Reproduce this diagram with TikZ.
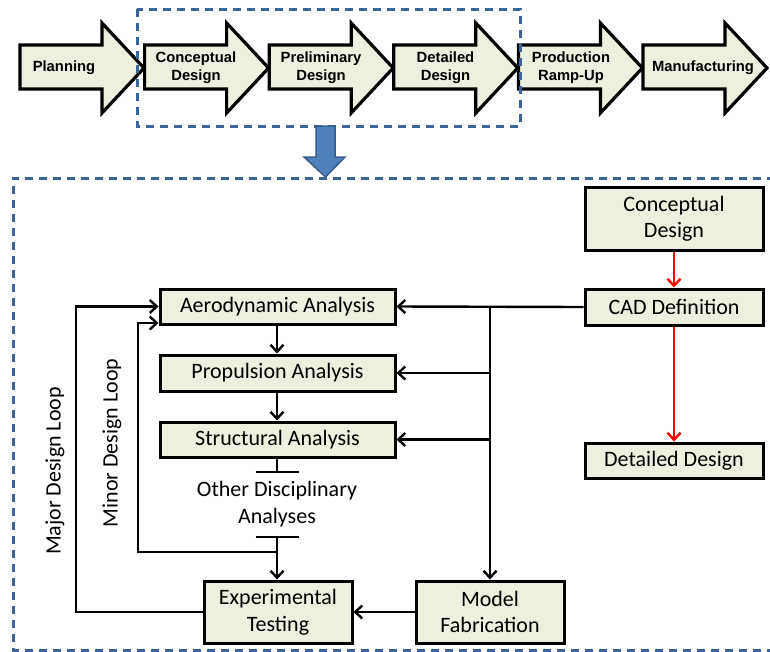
\documentclass[tikz,border=0pt]{standalone}
\usepackage{fontspec}
\setmainfont{Carlito}
\newfontfamily\stagefont{Liberation Sans}
\usetikzlibrary{arrows.meta}
\definecolor{boxfill}{HTML}{EBF1DE}
\definecolor{frameblue}{HTML}{3D6496}
\definecolor{bluefill}{HTML}{4F81BD}
\definecolor{blueedge}{HTML}{385D8A}
\tikzset{
  stage/.style={draw=black,line width=3.2pt,fill=boxfill,line join=miter},
  stagetext/.style={font=\stagefont\bfseries\fontsize{14.8}{18}\selectfont,align=center,inner sep=0pt},
  block/.style={draw=black,line width=3pt,fill=boxfill,inner sep=0pt,align=center,
    font=\fontsize{22}{26.5}\selectfont},
  plain/.style={inner sep=0pt,align=center,font=\fontsize{22}{26.5}\selectfont},
  frame/.style={draw=frameblue,line width=3pt,dash pattern=on 8.3pt off 5.7pt},
  link/.style={draw=black,line width=2.4pt,-{Straight Barb[length=7pt,width=13pt,line width=2.4pt]}},
  wire/.style={draw=black,line width=2.4pt},
  redlink/.style={draw=red,line width=2.4pt,-{Straight Barb[length=7pt,width=13pt,line width=2.4pt]}},
  bar/.style={draw=black,line width=2.4pt},
}
\begin{document}
\begin{tikzpicture}[x=1pt,y=-1pt]
\useasboundingbox (0,0) rectangle (770,651);

% process chevrons along the top
\foreach \i/\lbl/\tx in {0/Planning/64,1/Conceptual\\Design/196,2/Preliminary\\Design/321,
    3/Detailed\\Design/445.5,4/Production\\Ramp-Up/571,5/Manufacturing/703}{
  \pgfmathsetmacro{\L}{20+124.6*\i}
  \draw[stage] (\L,45) -- (\L+82,45) -- (\L+82,23) -- (\L+124,68) -- (\L+82,113)
     -- (\L+82,89) -- (\L,89) -- cycle;
  \node[stagetext] (stage\i) at (\tx,68) {\lbl};
}

% highlighted design phases
\draw[frame] (137,9) rectangle (520,126);

% block arrow down to the detail view
\draw[fill=bluefill,draw=blueedge,line width=1.5pt,line join=miter]
  (316,126) -- (335,126) -- (335,157) -- (345,157) -- (325.5,177) -- (304,157) -- (316,157) -- cycle;

% detail frame (open on the right)
\draw[frame] (775,178) -- (13,178) -- (13,650) -- (775,650);

% blocks
\node[block,minimum width=235pt,minimum height=35pt] (aero) at (277.5,306.5) {Aerodynamic Analysis};
\node[block,minimum width=235pt,minimum height=36pt] (prop) at (277.5,373) {Propulsion Analysis};
\node[block,minimum width=235pt,minimum height=35pt] (struct) at (277.5,439.5) {Structural Analysis};
\node[plain] (other) at (277,504) {Other Disciplinary\\Analyses};
\node[block,minimum width=148pt,minimum height=62pt] (exp) at (278,612) {Experimental\\Testing};
\node[block,minimum width=148pt,minimum height=62pt] (model) at (490,612) {Model\\Fabrication};
\node[block,minimum width=178pt,minimum height=63pt] (cdesign) at (674,218.5) {Conceptual\\Design};
\node[block,minimum width=178pt,minimum height=36pt] (cad) at (674,307) {CAD Definition};
\node[block,minimum width=178pt,minimum height=35pt] (ddesign) at (674,460.5) {Detailed Design};

\node[plain,rotate=90] (major) at (55,471) {Major Design Loop};
\node[plain,rotate=90] (minor) at (112,443) {Minor Design Loop};

% auxiliary points
\coordinate (j1) at (490,306.5);
\coordinate (tb1) at (277,472);
\coordinate (tb2) at (277,537);
\coordinate (mn) at (277,552);

% red design flow
\draw[redlink] (cdesign.south) -- (cad.north);
\draw[redlink] (cad.south) -- (ddesign.north);

% CAD distribution
\draw[link] (cad.west) -- (aero.east);
\draw[link] (j1 |- prop.east) -- (prop.east);
\draw[link] (j1 |- struct.east) -- (struct.east);
\draw[link] (j1) -- (model.north);
\draw[wire] (j1) -- (j1 |- struct.east);

% analysis chain
\draw[link] (aero.south -| tb1) -- (prop.north -| tb1);
\draw[link] (prop.south -| tb1) -- (struct.north -| tb1);
\draw[wire] (struct.south -| tb1) -- (tb1);
\draw[bar] ([xshift=-21.5pt]tb1) -- ([xshift=21.5pt]tb1);
\draw[bar] ([xshift=-21.5pt]tb2) -- ([xshift=21.5pt]tb2);
\draw[link] (tb2) -- (exp.north -| tb2);

% loops
\draw[link] (mn) -- (138,552) -- (138,323) -- (aero.west |- 0,323);
\draw[link] (exp.west) -- (76,612) -- (76,306.5) -- (aero.west);
\draw[link] (model.west) -- (exp.east);
\end{tikzpicture}
\end{document}
